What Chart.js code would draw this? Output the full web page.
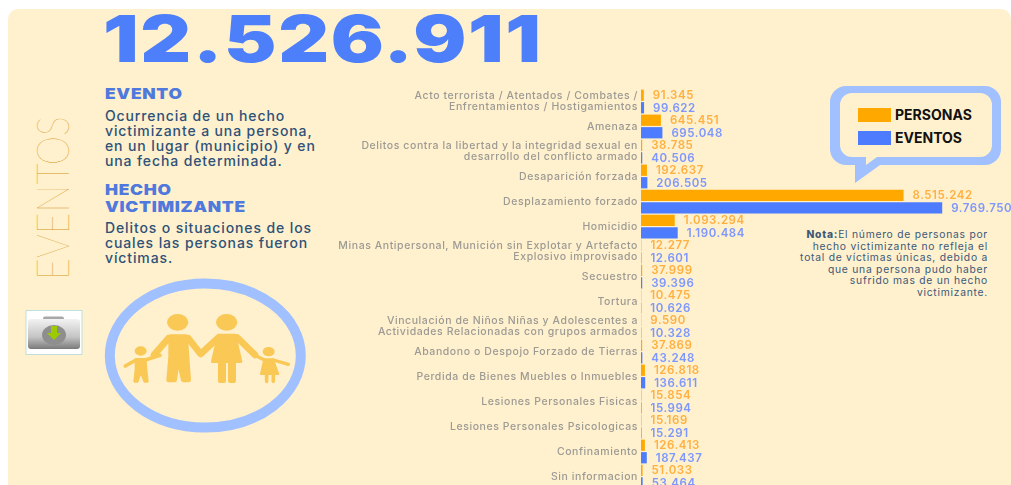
<!DOCTYPE html>
<html lang="es">
<head>
<meta charset="utf-8">
<title>Eventos</title>
<script src="https://cdn.jsdelivr.net/npm/chart.js@4"></script>
<style>
html, body { margin: 0; padding: 0; background: #fff; width: 1011px; height: 485px; overflow: hidden; }
#panel { position: absolute; left: 8px; top: 9px; width: 1003px; height: 476px; background: #FFF0CE; border-radius: 10px 10px 0 0; }
.abs { position: absolute; white-space: nowrap; font-family: Inter, sans-serif; }
#total { left: 103px; top: 1px; font-size: 64px; line-height: 76px; font-weight: 900; color: #4D7FFA; letter-spacing: 1.4px; transform: scaleX(1.23); transform-origin: left center; }
.head { left: 105px; font-size: 15px; line-height: 17px; font-weight: 900; color: #4F79DC; letter-spacing: .6px; transform: scaleX(1.16); transform-origin: left center; }
.text { left: 105px; font-size: 14px; line-height: 15px; font-weight: 500; color: #2E5278; letter-spacing: .88px; }
#side { left: -48.500px; top: 178px; width: 200px; height: 40px; line-height: 40px; text-align: center; font-family: Lato, sans-serif; font-weight: 100; font-size: 45px; color: #D69A20; transform: rotate(-90deg) scaleX(.83); }
#nota { right: 23px; top: 229px; text-align: right; font-size: 10.300px; line-height: 11.600px; font-weight: 400; color: #3A5A78; letter-spacing: .75px; }
#nota b { font-weight: 800; }
#wrap { position: absolute; left: 330px; top: 88.500px; width: 681px; height: 400px; }
svg { position: absolute; left: 0; top: 0; }
.leg { font-family: Inter, sans-serif; font-weight: 700; font-size: 14px; fill: #111; }
</style>
</head>
<body>
<div id="panel"></div>
<div class="abs" id="total">12.526.911</div>
<div class="abs head" style="top:85px">EVENTO</div>
<div class="abs text" style="top:108px">Ocurrencia de un hecho<br>victimizante a una persona,<br>en un lugar (municipio) y en<br>una fecha determinada.</div>
<div class="abs head" style="top:181px">HECHO<br>VICTIMIZANTE</div>
<div class="abs text" style="top:220px">Delitos o situaciones de los<br>cuales las personas fueron<br>víctimas.</div>
<div class="abs" id="side">EVENTOS</div>
<div class="abs" id="nota"><b>Nota:</b>El número de personas por<br>hecho victimizante no refleja el<br>total de víctimas únicas, debido a<br>que una persona pudo haber<br>sufrido mas de un hecho<br>victimizante.</div>

<svg width="1011" height="485">
  <defs>
    <linearGradient id="gris" x1="0" y1="0" x2="0" y2="1">
      <stop offset="0" stop-color="#F2F2F2"/><stop offset=".6" stop-color="#C4C4C4"/><stop offset="1" stop-color="#7A7A7A"/>
    </linearGradient>
  </defs>
  <!-- carpeta de descarga -->
  <rect x="26" y="310.500" width="56" height="44" fill="#fff" stroke="#BFE0DC"/>
  <rect x="43" y="316.500" width="21" height="6" rx="2" fill="#A8A8A8"/>
  <rect x="28" y="319" width="52" height="30" rx="3" fill="url(#gris)"/>
  <ellipse cx="54" cy="335" rx="12" ry="10" fill="#8E8E8E"/>
  <path d="M51 326h6v7h4l-7 7-7-7h4z" fill="#9BCB00"/>
  <!-- familia -->
  <ellipse cx="205.300" cy="355.500" rx="95.500" ry="72" fill="none" stroke="#A0C0FF" stroke-width="10"/>
  <g transform="translate(0 270) scale(.3333)" fill="#F9C855" stroke="#F9C855" stroke-linecap="round" stroke-linejoin="round">
    <ellipse cx="533" cy="157" rx="32" ry="25" stroke="none"/>
    <ellipse cx="680" cy="157" rx="32" ry="25" stroke="none"/>
    <ellipse cx="422" cy="243" rx="18" ry="14" stroke="none"/>
    <ellipse cx="806" cy="245" rx="18" ry="14" stroke="none"/>
    <path d="M512 200h45l4 60 5 70h-16l-16-70-10 70h-18l6-70z" stroke-width="14"/>
    <path d="M505 205L462 255M565 205L602 252L655 203M712 203L765 255" fill="none" stroke-width="20"/>
    <path d="M655 195h50l18 80h-86z" stroke-width="8"/>
    <path d="M660 275h12v58h-12zM690 275h12v58h-12z" stroke-width="12"/>
    <path d="M408 268h28l2 30 4 36h-8l-12-30-10 30h-8l4-36z" stroke-width="8"/>
    <path d="M408 270L376 288M436 270L480 256" fill="none" stroke-width="11"/>
    <path d="M793 268h26l16 44h-52z" stroke-width="6"/>
    <path d="M800 312v22M820 312v22" fill="none" stroke-width="11"/>
    <path d="M793 270L765 256M820 270L865 283" fill="none" stroke-width="10"/>
  </g>
  <!-- globo de la leyenda -->
  <path fill="#A0C0FF" fill-rule="evenodd" d="M846 86H985a16 16 0 0 1 16 16V149a16 16 0 0 1-16 16H880L855 183V165H846a16 16 0 0 1-16-16V102a16 16 0 0 1 16-16Z
    M852 93a12 12 0 0 0-12 12V145a12 12 0 0 0 12 12H866V165L877 157H980a12 12 0 0 0 12-12V105a12 12 0 0 0-12-12Z"/>
  <rect id="sw0" x="858" y="108" width="33" height="14"/>
  <rect id="sw1" x="858" y="131" width="33" height="14"/>
  <text id="lg0" class="leg" x="895" y="120"></text>
  <text id="lg1" class="leg" x="895" y="143"></text>
</svg>

<div id="wrap"><canvas id="chartEventos"></canvas></div>

<script>
"use strict";

const categorias = [
    ['Acto terrorista / Atentados / Combates /', 'Enfrentamientos / Hostigamientos'],
    'Amenaza',
    ['Delitos contra la libertad y la integridad sexual en', 'desarrollo del conflicto armado'],
    'Desaparición forzada',
    'Desplazamiento forzado',
    'Homicidio',
    ['Minas Antipersonal, Munición sin Explotar y Artefacto', 'Explosivo improvisado'],
    'Secuestro',
    'Tortura',
    ['Vinculación de Niños Niñas y Adolescentes a', 'Actividades Relacionadas con grupos armados'],
    'Abandono o Despojo Forzado de Tierras',
    'Perdida de Bienes Muebles o Inmuebles',
    'Lesiones Personales Fisicas',
    'Lesiones Personales Psicologicas',
    'Confinamiento',
    'Sin informacion'
];
const personas = [91345, 645451, 38785, 192637, 8515242, 1093294, 12277, 37999, 10475, 9590, 37869, 126818, 15854, 15169, 126413, 51033];
const eventos = [99622, 695048, 40506, 206505, 9769750, 1190484, 12601, 39396, 10626, 10328, 43248, 136611, 15994, 15291, 187437, 53464];
const nombresSeries = ['PERSONAS', 'EVENTOS'];

const coloresBarra = ['#FFA800', '#4D7CFE'];
const coloresTexto = ['#FFB040', '#7C97FF'];

// separador de miles con punto
const formato = (valor) => String(valor).replace(/\B(?=(\d{3})+$)/g, '.');

// leyenda dentro del globo
nombresSeries.forEach((nombre, i) => {
    document.getElementById('lg' + i).textContent = nombre;
    document.getElementById('sw' + i).setAttribute('fill', coloresBarra[i]);
});

// etiquetas de valor al final de cada barra
const etiquetasValor = {
    id: 'etiquetasValor',
    afterDatasetsDraw(chart) {
        const ctx = chart.ctx;
        ctx.save();
        ctx.font = '600 11.500px Inter, sans-serif';
        ctx.letterSpacing = '0.55px';
        ctx.textBaseline = 'middle';
        chart.data.datasets.forEach((dataset, i) => {
            ctx.fillStyle = coloresTexto[i];
            chart.getDatasetMeta(i).data.forEach((barra, j) => {
                ctx.fillText(formato(dataset.data[j]), barra.x + 9, barra.y + 0.5);
            });
        });
        ctx.restore();
    }
};

// espaciado de letras de los rotulos del eje
const espaciado = {
    id: 'espaciado',
    beforeDraw(chart) {
        chart.ctx.letterSpacing = '0.58px';
    }
};

new Chart(document.getElementById('chartEventos'), {
    type: 'bar',
    data: {
        labels: categorias,
        datasets: [
            { label: nombresSeries[0], data: personas, backgroundColor: coloresBarra[0] },
            { label: nombresSeries[1], data: eventos, backgroundColor: coloresBarra[1] }
        ]
    },
    plugins: [espaciado, etiquetasValor],
    options: {
        indexAxis: 'y',
        responsive: true,
        maintainAspectRatio: false,
        animation: false,
        layout: { padding: 0 },
        categoryPercentage: 1,
        barPercentage: 0.9,
        plugins: { legend: { display: false }, tooltip: { enabled: false } },
        scales: {
            x: { display: false, min: 0, max: 12000000 },
            y: {
                afterFit: (escala) => {
                    escala.width = 311;
                    escala.paddingTop = 0;
                    escala.paddingBottom = 0;
                },
                grid: { display: false, drawTicks: false, tickLength: 0 },
                border: { display: false },
                ticks: {
                    autoSkip: false,
                    padding: 3,
                    color: '#9C9A94',
                    font: { family: 'Inter, sans-serif', size: 10.5, weight: '500', lineHeight: 1.1 }
                }
            }
        }
    }
});
</script>
</body>
</html>
